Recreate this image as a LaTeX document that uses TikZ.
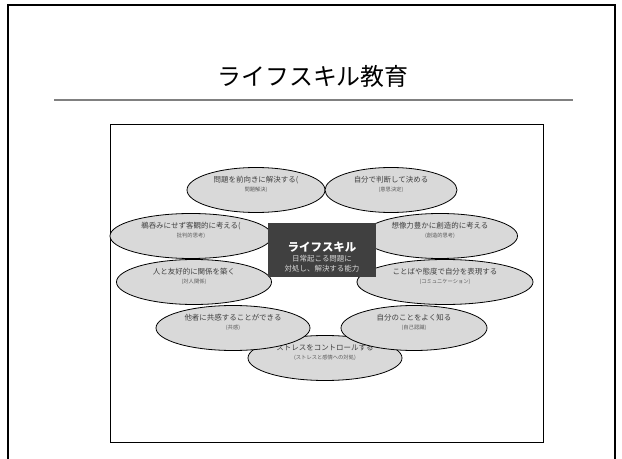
\documentclass[tikz,border=0pt]{standalone}
\usepackage{fontspec}
\setmainfont{Noto Sans CJK JP}
\usetikzlibrary{shapes.geometric}
\definecolor{skillfill}{HTML}{D9D9D9}
\definecolor{skillink}{HTML}{404040}
\definecolor{subink}{HTML}{595959}
\definecolor{coregray}{HTML}{404040}
\definecolor{corelight}{HTML}{D9D9D9}
\definecolor{rulegray}{HTML}{808080}
\newcommand{\subline}[1]{{\fontsize{5.3}{6.3}\selectfont\color{subink}#1}}

\begin{document}
\begin{tikzpicture}[x=1bp, y=-1bp,
  skill/.style={ellipse, draw=black, fill=skillfill, line width=0.8bp, inner sep=0pt, minimum height=45bp},
  skilllab/.style={align=center, text=skillink, font=\fontsize{7.5}{8.5}\selectfont, yshift=5.5bp, inner sep=0pt},
  core/.style={rectangle, fill=coregray, minimum width=108bp, minimum height=54bp, inner sep=0pt},
  corelab/.style={align=center, text=corelight, font=\fontsize{7.5}{10}\selectfont, yshift=-7bp, inner sep=0pt},
]
\useasboundingbox (0,0) rectangle (622,459);
% slide frame and title
\draw[line width=2bp] (8,465) -- (8,5) -- (615,5) -- (615,465);
\node[font=\fontsize{24}{28}\selectfont] (title) at (313,76) {ライフスキル教育};
\draw[rulegray, line width=1.5bp] (54,100) -- (573,100);
\node[draw=black, line width=0.8bp, minimum width=433bp, minimum height=318bp, inner sep=0pt] (frame) at (327,283) {};
% skills
\node[skill, minimum width=154bp, label={[skilllab]center:{ストレスをコントロールする\\\subline{(ストレスと感情への対処)}}}] (stress) at (325,358) {};
\node[skill, minimum width=138bp, label={[skilllab]center:{問題を前向きに解決する(\\\subline{問題解決)}}}] (solve) at (256,190) {};
\node[skill, minimum width=132bp, label={[skilllab]center:{自分で判断して決める\\\subline{(意思決定)}}}] (decide) at (391,190) {};
\node[skill, minimum width=162bp, label={[skilllab]center:{鵜呑みにせず客観的に考える(\\\subline{批判的思考)}}}] (critic) at (191,236) {};
\node[skill, minimum width=155bp, label={[skilllab]center:{想像力豊かに創造的に考える\\\subline{(創造的思考)}}}] (create) at (440,236) {};
\node[skill, minimum width=155bp, label={[skilllab]center:{人と友好的に関係を築く\\\subline{(対人関係)}}}] (relate) at (194,282) {};
\node[skill, minimum width=176bp, label={[skilllab]center:{ことばや態度で自分を表現する\\\subline{(コミュニケーション)}}}] (express) at (445,282) {};
\node[skill, minimum width=154bp, label={[skilllab]center:{他者に共感することができる\\\subline{(共感)}}}] (empathy) at (233,328) {};
\node[skill, minimum width=146bp, label={[skilllab]center:{自分のことをよく知る\\\subline{(自己認識)}}}] (self) at (414,328) {};
% centre
\node[core, label={[corelab]center:{{\fontsize{11.5}{12}\selectfont\bfseries\color{white}ライフスキル}\\日常起こる問題に\\対処し、解決する能力}}] (core) at (322,250) {};
\end{tikzpicture}
\end{document}
